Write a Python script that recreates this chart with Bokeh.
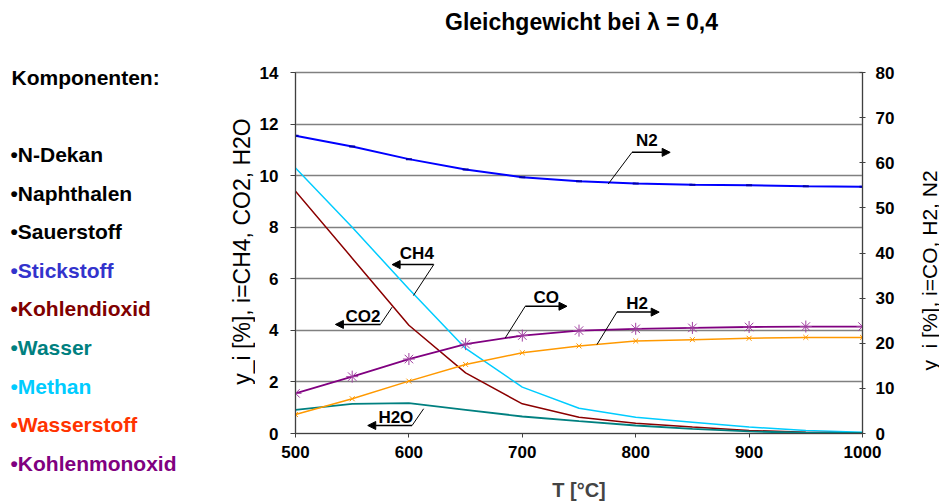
import math

from bokeh.core.properties import value
from bokeh.embed import file_html
from bokeh.layouts import column, row
from bokeh.models import Arrow, FixedTicker, LinearAxis, NormalHead, Range1d
from bokeh.plotting import figure
from bokeh.resources import INLINE

FONT = "Liberation Sans"

# ---------------------------------------------------------------- data
temperature = [500, 550, 600, 650, 700, 750, 800, 850, 900, 950, 1000]

# mole fractions on the left axis (0..14 %)
ch4 = [10.3, 8.0, 5.6, 3.3, 1.8, 0.98, 0.63, 0.44, 0.25, 0.12, 0.05]
co2 = [9.4, 6.8, 4.2, 2.35, 1.15, 0.63, 0.40, 0.25, 0.12, 0.05, 0.02]
h2o = [0.92, 1.15, 1.18, 0.92, 0.66, 0.48, 0.31, 0.18, 0.08, 0.03, 0.02]

# mole fractions on the right axis (0..80 %)
co = [8.9, 12.6, 16.5, 19.8, 21.7, 22.8, 23.2, 23.4, 23.6, 23.7, 23.7]
h2 = [4.2, 7.7, 11.6, 15.3, 17.9, 19.4, 20.5, 20.8, 21.1, 21.3, 21.3]
n2 = [66.0, 63.6, 60.8, 58.5, 56.8, 55.9, 55.4, 55.1, 55.0, 54.8, 54.7]

left_ticks = [0, 2, 4, 6, 8, 10, 12, 14]
right_ticks = [0, 10, 20, 30, 40, 50, 60, 70, 80]
x_ticks = [500, 600, 700, 800, 900, 1000]

components = ["N-Dekan", "Naphthalen", "Sauerstoff", "Stickstoff", "Kohlendioxid",
              "Wasser", "Methan", "Wasserstoff", "Kohlenmonoxid"]
component_colors = ["#000000", "#000000", "#000000", "#3333cc", "#800000",
                    "#008080", "#00ccff", "#ff3300", "#800080"]

# ---------------------------------------------------------------- layout
W, H = 939, 504
LEFT_W, RIGHT_W, TOP_H = 255, 30, 62
MAIN_W, MAIN_H = W - LEFT_W - RIGHT_W, H - TOP_H


def canvas(x0, x1, height):
    """Blank strip whose data coordinates are page pixels (y measured upward)."""
    f = figure(width=x1 - x0, height=height, x_range=Range1d(x0, x1),
               y_range=Range1d(0, height), output_backend="svg",
               toolbar_location=None, min_border=0, frame_align=False)
    f.axis.visible = False
    f.grid.visible = False
    f.outline_line_color = None
    return f


def write(f, x, y, text, size, bold=True, color="#000000", angle=0.0, align="left"):
    f.text(x=[x], y=[f.height - y], text=[text], angle=angle,
           text_font=value(FONT), text_font_size=size,
           text_font_style="bold" if bold else "normal",
           text_color=color, text_align=align, text_baseline="middle")


# left strip: component list and caption of the left axis
side = canvas(0, LEFT_W, H)
write(side, 11, 77, "Komponenten:", "21px")
for i, (name, color) in enumerate(zip(components, component_colors)):
    write(side, 10, 154 + 38.6 * i, "\u2022" + name, "21px", color=color)
write(side, 241.5, 251, "y_i [%], i=CH4, CO2, H2O", "23px", bold=False,
      angle=math.pi / 2, align="center")

# top strip: chart title
top = canvas(LEFT_W, LEFT_W + MAIN_W, TOP_H)
write(top, 581, 21, "Gleichgewicht bei \u03bb = 0,4", "23px", align="center")

# right strip: caption of the right axis
cap = canvas(W - RIGHT_W, W, H)
write(cap, 928.5, 270, "y_i [%], i=CO, H2, N2", "21px", bold=False,
      angle=math.pi / 2, align="center")

# main chart
p = figure(width=MAIN_W, height=MAIN_H, x_range=Range1d(500, 1000),
           y_range=Range1d(0, 14), output_backend="svg", toolbar_location=None,
           min_border_left=40, min_border_right=47, min_border_top=10,
           min_border_bottom=71, frame_align=False)
p.extra_y_ranges = {"right": Range1d(0, 80)}

right_axis = LinearAxis(y_range_name="right")
p.add_layout(right_axis, "right")

p.xaxis.ticker = FixedTicker(ticks=x_ticks)
p.yaxis[0].ticker = FixedTicker(ticks=left_ticks)
right_axis.ticker = FixedTicker(ticks=right_ticks)

for ax in p.axis:
    ax.major_label_text_font = FONT
    ax.major_label_text_font_size = "17px"
    ax.major_label_text_font_style = "bold"
    ax.major_label_text_color = "#000000"
    ax.axis_line_color = "#404040"
    ax.major_tick_line_color = "#404040"
    ax.minor_tick_line_color = None

p.yaxis[0].major_tick_out = 5
p.yaxis[0].major_tick_in = 0
p.yaxis[0].major_label_standoff = 12
right_axis.major_tick_in = 3
right_axis.major_tick_out = 3
right_axis.major_label_standoff = 10
p.xaxis.major_tick_out = 4
p.xaxis.major_tick_in = 0
p.xaxis.major_label_standoff = 8

p.xaxis.axis_label = "T [\u00b0C]"
p.xaxis.axis_label_text_font = FONT
p.xaxis.axis_label_text_font_size = "20px"
p.xaxis.axis_label_text_font_style = "bold"
p.xaxis.axis_label_standoff = 18

p.xgrid.grid_line_color = None
p.ygrid.grid_line_color = "#808080"
p.ygrid.grid_line_width = 1.5
p.outline_line_color = "#808080"
p.outline_line_width = 1.5

# curves on the left axis
p.line(temperature, ch4, line_color="#00ccff", line_width=1.5)
p.line(temperature, co2, line_color="#8b0000", line_width=1.5)
p.line(temperature, h2o, line_color="#008080", line_width=1.8)

# curves on the right axis
p.line(temperature, n2, y_range_name="right", line_color="#0000ff", line_width=2)
p.scatter(temperature, n2, y_range_name="right", marker="dash", size=6,
          line_color="#0000aa", line_width=2)
p.line(temperature, h2, y_range_name="right", line_color="#ff9900", line_width=1.5)
p.scatter(temperature, h2, y_range_name="right", marker="x", size=7,
          line_color="#ff9900", line_width=1)
p.line(temperature, co, y_range_name="right", line_color="#800080", line_width=1.8)
p.scatter(temperature, co, y_range_name="right", marker="asterisk", size=12,
          line_color="#a040a0", line_width=1)

# callouts: (label, axis, text position, leader start on the curve, elbow, arrow tip)
callouts = [
    ("CH4", "default", (607.0, 6.99), (604.0, 5.35), (621.9, 6.55), (585.2, 6.55)),
    ("CO2", "default", (559.5, 4.55), (585.2, 4.90), (574.9, 4.23), (535.2, 4.23)),
    ("H2O", "default", (588.5, 0.61), (613.0, 0.96), (602.8, 0.31), (563.7, 0.31)),
    ("N2", "right", (809.9, 65.0), (775.8, 55.3), (796.7, 62.3), (830.4, 62.3)),
    ("CO", "right", (721.1, 30.2), (685.0, 21.2), (702.6, 28.2), (739.4, 28.2)),
    ("H2", "right", (801.3, 28.9), (765.8, 19.7), (783.4, 26.9), (820.7, 26.9)),
]

for label, rng, txt, start, elbow, tip in callouts:
    p.text(x=[txt[0]], y=[txt[1]], text=[label], y_range_name=rng,
           text_font=value(FONT), text_font_style="bold", text_font_size="17px",
           text_align="center", text_baseline="middle", text_color="#000000")
    p.segment(x0=[start[0]], y0=[start[1]], x1=[elbow[0]], y1=[elbow[1]],
              y_range_name=rng, line_color="#000000", line_width=1)
    p.add_layout(Arrow(end=NormalHead(size=8, fill_color="#000000", line_color="#000000"),
                       x_start=elbow[0], y_start=elbow[1], x_end=tip[0], y_end=tip[1],
                       y_range_name=rng, line_color="#000000", line_width=1.5))

layout = row(side, column(top, p), cap)
open("out.html", "w").write(file_html(layout, INLINE))
